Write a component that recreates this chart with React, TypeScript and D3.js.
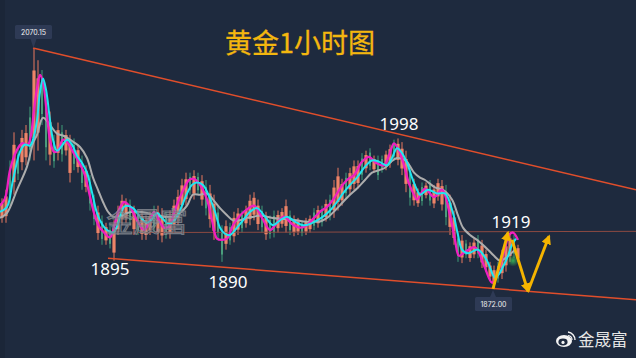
import React from "react";
import * as d3 from "d3";

const candleTop = [1947,1954,1978,2001,1988,2003,2007,2022,2070,2060,2052,2032,2018,1999,2009,2007,2003,1999,1996,1991,1982,1974,1966,1950,1941,1933,1927,1925,1929,1941,1950,1947,1946,1941,1937,1937,1933,1936,1941,1941,1939,1936,1937,1946,1954,1963,1968,1968,1970,1968,1966,1962,1958,1950,1941,1925,1929,1927,1936,1939,1937,1941,1950,1952,1946,1941,1936,1933,1937,1937,1939,1946,1937,1933,1931,1929,1931,1933,1939,1941,1941,1946,1950,1962,1972,1963,1968,1972,1978,1978,1984,1986,1988,1982,1982,1982,1986,1991,1995,1996,1993,1986,1974,1963,1955,1960,1960,1962,1958,1963,1962,1958,1950,1937,1919,1917,1913,1911,1914,1917,1913,1905,1895,1892,1895,1905,1913,1919,1917,1909];
const candleLow = [1927,1927,1941,1950,1962,1970,1974,1978,1978,1986,2007,1978,1974,1972,1978,1977,1982,1960,1970,1968,1954,1952,1937,1925,1913,1909,1909,1906,1896,1917,1925,1927,1925,1917,1917,1913,1913,1917,1919,1913,1911,1914,1914,1921,1925,1936,1941,1950,1946,1950,1941,1933,1923,1913,1913,1895,1905,1909,1911,1917,1919,1923,1925,1929,1921,1919,1913,1914,1915,1919,1923,1919,1917,1916,1917,1916,1917,1919,1921,1923,1924,1928,1929,1931,1937,1941,1947,1950,1954,1955,1962,1968,1970,1968,1962,1968,1970,1972,1978,1974,1966,1952,1941,1941,1940,1941,1947,1941,1939,1945,1937,1925,1917,1909,1895,1894,1898,1895,1898,1898,1890,1887,1880,1873,1878,1881,1887,1895,1898,1895];
const candleDir = "uududuuduuddududuudududdududuuuududuuuduuduuuuudududuudduduuduuuududduuuduuduudududuuuduuudududduuduuuduududuuuduududuuduuuudu";

const cyanBars = [0,7,13,20,25,30,33,37,40,43,46,50,53,57,62,67,72,77,82,87,92,97,102,107,113,117,120,124,127,133,140,147,152,157,162,167,172,177,182,187,192,197,203,210,215,220,225,230,236,243,250,257,265,273,280,287,295,303,310,317,323,330,337,343,350,357,365,372,379,387,392,397,402,407,412,417,420,428,437,445,453,458,462,468,478,487,495,499,503,508,512,516];
const cyanPrices = [1936,1940,1962,1985,1991,1990,1995,2011,2034,2045,2036,2011,1995,1986,1990,1995,1991,1982,1976,1968,1952,1935,1926,1921,1919,1924,1932,1940,1941,1939,1932,1927,1930,1935,1931,1927,1927,1932,1941,1951,1958,1960,1958,1947,1936,1923,1918,1917,1922,1929,1936,1939,1932,1925,1929,1932,1928,1925,1926,1929,1932,1937,1944,1951,1958,1964,1973,1978,1977,1974,1980,1988,1984,1976,1964,1954,1950,1954,1951,1951,1935,1917,1905,1902,1905,1896,1882,1885,1891,1900,1909,1914];

const magentaBars = [0,5,10,16,22,28,31,34,37,40,43,47,50,54,58,63,68,73,78,84,89,94,99,104,110,114,117,121,124,130,137,144,149,154,159,164,169,174,179,184,189,194,200,207,212,217,222,227,233,240,247,254,262,270,277,284,292,300,307,314,320,327,334,340,347,354,362,369,376,384,389,394,399,404,409,414,417,425,434,442,450,455,459,465,475,484,492,496,500,505,509,513,518];
const magentaPrices = [1941,1947,1970,1985,1992,1991,1999,2019,2037,2048,2042,2015,1995,1985,1986,1995,1992,1985,1978,1968,1952,1935,1924,1919,1915,1923,1933,1941,1944,1940,1929,1921,1927,1936,1929,1923,1924,1935,1946,1955,1962,1963,1958,1946,1929,1914,1913,1914,1925,1933,1938,1941,1931,1921,1927,1932,1926,1923,1925,1931,1936,1940,1947,1955,1962,1966,1977,1981,1976,1974,1982,1992,1986,1974,1959,1950,1946,1955,1948,1954,1933,1913,1900,1903,1907,1892,1878,1882,1892,1906,1917,1919,1913];

const grayBars = [0,7,17,27,33,37,43,50,57,64,70,80,87,93,98,103,108,113,120,127,137,147,155,163,172,180,187,193,200,207,213,220,226,233,240,247,254,260,267,273,285,297,305,313,320,327,335,343,350,357,365,372,379,385,391,397,403,407,414,420,425,435,443,452,458,463,470,477,488,494,500,507,515];
const grayPrices = [1931,1935,1954,1973,1992,1999,2013,2007,2000,1998,1995,1989,1980,1964,1954,1944,1936,1932,1932,1935,1936,1935,1933,1932,1932,1935,1941,1950,1950,1951,1946,1939,1934,1929,1929,1931,1932,1933,1932,1931,1930,1929,1928,1928,1928,1931,1937,1944,1950,1955,1962,1968,1970,1972,1977,1980,1979,1977,1968,1964,1962,1956,1954,1946,1933,1923,1917,1913,1905,1900,1896,1899,1905];

const upperTrendBars = [33, 636];
const upperTrendPrices = [2070, 1954];
const lowerTrendBars = [108, 636];
const lowerTrendPrices = [1898, 1864];
const levelBars = [138, 636];
const levelPrices = [1919, 1920];
const forecastBars = [[493, 508], [512, 528], [528, 549]];
const forecastPrices = [[1873, 1919], [1913, 1871], [1871, 1916]];

const title = "黄金1小时图";
const priceNotes = [
  { text: "1998", bar: 399, price: 2003 },
  { text: "1895", bar: 110, price: 1884 },
  { text: "1890", bar: 228, price: 1874 },
  { text: "1919", bar: 511, price: 1923 },
];
const priceTags = [
  { text: "2070.15", bar: 33.5, price: 2070, above: true },
  { text: "1872.00", bar: 493, price: 1872, above: false },
];
const brand = "金晟富";

const FONT = "'Noto Sans', 'Noto Sans CJK SC', sans-serif";
const CJK = "'Noto Sans CJK SC', sans-serif";
const BG = "#1e2a3e";

export default function App() {
  const x = d3.scaleLinear().domain([0, 636]).range([0, 636]);
  const y = d3.scaleLinear().domain([2070, 1872]).range([48, 290]);
  const line = (bars: number[], prices: number[]) =>
    d3.line<number>().x((b) => x(b)).y((_, i) => y(prices[i])).curve(d3.curveCatmullRom.alpha(0.5))(bars) || "";
  const straight = (bars: number[], prices: number[]) =>
    d3.line<number>().x((b) => x(b)).y((_, i) => y(prices[i]))(bars) || "";

  const candles = candleTop
    .map((top, i) => ({
      bar: 2 + 4 * i,
      top,
      low: candleLow[i],
      up: candleDir[i % candleDir.length] === "u",
    }))
    .sort((a, b) => Number(a.up) - Number(b.up));

  return (
    <svg
      width={636}
      height={358}
      viewBox="0 0 636 358"
      style={{ position: "fixed", left: 0, top: 0, display: "block" }}
    >
      <defs>
        <marker id="ah" viewBox="0 0 10 10" refX="8" refY="5" markerWidth="3.4" markerHeight="3.4" orient="auto-start-reverse">
          <path d="M0,0 L10,5 L0,10 Z" fill="#f5b400" />
        </marker>
        <radialGradient id="glow">
          <stop offset="0%" stopColor="#3ecb5c" stopOpacity={0.8} />
          <stop offset="100%" stopColor="#3ecb5c" stopOpacity={0} />
        </radialGradient>
      </defs>
      <rect width={636} height={358} fill={BG} />
      <rect width={5} height={358} fill="#1b2638" />

      <text x={300} y={53} textAnchor="middle" fontFamily={CJK} fontSize={27} fill="#f4b70f" stroke="#f4b70f" strokeWidth={0.3}>{title}</text>

      <g>
        {candles.map((c) => {
          const h = y(c.low) - y(c.top);
          return (
            <g key={c.bar}>
              <line x1={x(c.bar)} x2={x(c.bar)} y1={y(c.top)} y2={y(c.low)} stroke={c.up ? "#e9795f" : "#3f9c78"} strokeWidth={1} />
              <rect x={x(c.bar) - (c.up ? 1.6 : 1)} width={c.up ? 3.2 : 2} y={y(c.top) + h * 0.2} height={h * 0.6} fill={c.up ? "#ee8468" : "#4a9d7c"} />
            </g>
          );
        })}
      </g>

      <path d={straight(levelBars, levelPrices)} fill="none" stroke="#8c4a42" strokeWidth={1} />
      <path d={straight(upperTrendBars, upperTrendPrices)} fill="none" stroke="#e04e2b" strokeWidth={1.5} />
      <path d={straight(lowerTrendBars, lowerTrendPrices)} fill="none" stroke="#e04e2b" strokeWidth={1.5} />

      <path d={line(grayBars, grayPrices)} fill="none" stroke="#adadad" strokeWidth={2} />
      <path d={line(magentaBars, magentaPrices)} fill="none" stroke="#f01fc0" strokeWidth={2.3} />
      <path d={line(cyanBars, cyanPrices)} fill="none" stroke="#1fe6f2" strokeWidth={2} />

      <circle cx={x(513)} cy={y(1896)} r={6} fill="url(#glow)" />

      {forecastBars.map((b, i) => (
        <path
          key={i}
          d={straight(b, forecastPrices[i])}
          fill="none"
          stroke="#f5b400"
          strokeWidth={2.9}
          markerEnd="url(#ah)"
        />
      ))}

      {priceNotes.map((n) => (
        <text key={n.text} x={x(n.bar)} y={y(n.price)} textAnchor="middle" fontFamily={FONT} fontSize={17} fill="#ffffff">{n.text}</text>
      ))}

      {priceTags.map((t) => {
        const cx = x(t.bar);
        const cy = y(t.price);
        const bx = t.above ? 15 : cx - 18;
        const by = t.above ? cy - 23 : cy + 7;
        const tip = t.above ? `M${cx - 3},${by + 14} L${cx + 3},${by + 14} L${cx},${cy} Z` : `M${cx - 3},${by} L${cx + 3},${by} L${cx},${cy} Z`;
        return (
          <g key={t.text}>
            <path d={tip} fill="#2e3a55" />
            <rect x={bx} y={by} width={37} height={14} rx={1.5} fill="#2e3a55" />
            <text x={bx + 18.5} y={by + 9.5} textAnchor="middle" fontFamily="Inter, sans-serif" fontSize={7} fill="#f0f0f0">{t.text}</text>
          </g>
        );
      })}

      <text x={147} y={232} textAnchor="middle" fontFamily={CJK} fontSize={27} fill="#5a5f69" fillOpacity={0.35} stroke="#8b8f96" strokeOpacity={0.8} strokeWidth={1.1}>{brand}</text>

      <g transform="translate(565,340)">
        <ellipse cx={-1} cy={1} rx={8} ry={6} fill="#f4f4f4" />
        <ellipse cx={-2} cy={2} rx={4.6} ry={3.4} fill={BG} />
        <circle cx={-2} cy={2.4} r={1.6} fill="#f4f4f4" />
        <path d="M3,-8 A8,8 0 0 1 10,0" fill="none" stroke="#f4f4f4" strokeWidth={1.4} />
        <path d="M3,-4.5 A4.5,4.5 0 0 1 7,0" fill="none" stroke="#f4f4f4" strokeWidth={1.2} />
      </g>
      <text x={578} y={346} fontFamily={CJK} fontSize={16.5} fill="#e6e6e6">{brand}</text>
    </svg>
  );
}
